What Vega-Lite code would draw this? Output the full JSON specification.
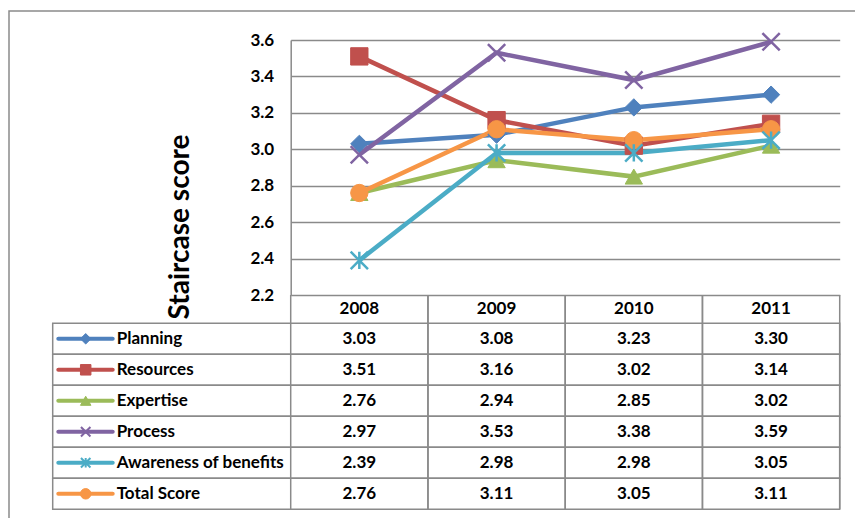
{
  "$schema": "https://vega.github.io/schema/vega-lite/v6.json",
  "width": 549,
  "height": 469,
  "autosize": {"type": "none"},
  "padding": {"left": 290.7, "top": 40, "right": 15.3, "bottom": 9},
  "background": "white",
  "config": {"view": {"stroke": null}, "font": "Lato"},
  "datasets": {
    "scores": [
      {"series": "Planning", "year": "2008", "value": 3.03},
      {"series": "Planning", "year": "2009", "value": 3.08},
      {"series": "Planning", "year": "2010", "value": 3.23},
      {"series": "Planning", "year": "2011", "value": 3.30},
      {"series": "Resources", "year": "2008", "value": 3.51},
      {"series": "Resources", "year": "2009", "value": 3.16},
      {"series": "Resources", "year": "2010", "value": 3.02},
      {"series": "Resources", "year": "2011", "value": 3.14},
      {"series": "Expertise", "year": "2008", "value": 2.76},
      {"series": "Expertise", "year": "2009", "value": 2.94},
      {"series": "Expertise", "year": "2010", "value": 2.85},
      {"series": "Expertise", "year": "2011", "value": 3.02},
      {"series": "Process", "year": "2008", "value": 2.97},
      {"series": "Process", "year": "2009", "value": 3.53},
      {"series": "Process", "year": "2010", "value": 3.38},
      {"series": "Process", "year": "2011", "value": 3.59},
      {"series": "Awareness of benefits", "year": "2008", "value": 2.39},
      {"series": "Awareness of benefits", "year": "2009", "value": 2.98},
      {"series": "Awareness of benefits", "year": "2010", "value": 2.98},
      {"series": "Awareness of benefits", "year": "2011", "value": 3.05},
      {"series": "Total Score", "year": "2008", "value": 2.76},
      {"series": "Total Score", "year": "2009", "value": 3.11},
      {"series": "Total Score", "year": "2010", "value": 3.05},
      {"series": "Total Score", "year": "2011", "value": 3.11}
    ],
    "years": [{"year": "2008"}, {"year": "2009"}, {"year": "2010"}, {"year": "2011"}],
    "series": [
      {"series": "Planning"}, {"series": "Resources"}, {"series": "Expertise"},
      {"series": "Process"}, {"series": "Awareness of benefits"}, {"series": "Total Score"}
    ]
  },
  "layer": [
    {
      "data": {"name": "scores"},
      "mark": {"type": "line", "strokeWidth": 4.5},
      "encoding": {
        "x": {"field": "year", "type": "ordinal", "axis": null, "scale": {"type": "band", "paddingInner": 0, "paddingOuter": 0}},
        "y": {
          "field": "value", "type": "quantitative",
          "scale": {"domain": [2.2, 3.6], "range": [255, 0], "nice": false, "zero": false},
          "axis": {
            "values": [2.2, 2.4, 2.6, 2.8, 3.0, 3.2, 3.4, 3.6],
            "format": ".1f",
            "grid": true, "gridColor": "#8a8a8a", "gridWidth": 1.5,
            "domain": true, "domainColor": "#8a8a8a", "domainWidth": 1.5,
            "ticks": false, "tickSize": 0, "labelPadding": 17,
            "labelFont": "Lato", "labelFontWeight": "bold", "labelFontSize": 17, "labelColor": "#000000",
            "title": "Staircase score",
            "titleFont": "Lato", "titleFontWeight": "bold", "titleFontSize": 28, "titleColor": "#000000",
            "titleAngle": 270, "titleX": -102.7, "titleY": 186.5,
            "titleAlign": "center", "titleBaseline": "alphabetic"
          }
        },
        "color": {
          "field": "series", "type": "nominal", "legend": null,
          "scale": {
            "domain": ["Planning", "Resources", "Expertise", "Process", "Awareness of benefits", "Total Score"],
            "range": ["#4F81BD", "#C0504D", "#9BBB59", "#8064A2", "#4BACC6", "#F79646"]
          }
        }
      }
    },
    {
      "data": {"values": [{}]},
      "mark": {"type": "rect", "filled": false, "stroke": "#8a8a8a", "strokeWidth": 1.5},
      "encoding": {
        "x": {"value": -281.7}, "x2": {"value": 700},
        "y": {"value": -29}, "y2": {"value": 700}
      }
    },
    {
      "data": {"name": "years"},
      "mark": {"type": "rule", "stroke": "#8a8a8a", "strokeWidth": 1.5},
      "encoding": {
        "x": {"field": "year", "type": "ordinal", "bandPosition": 0, "axis": null},
        "y": {"datum": 2.2, "type": "quantitative", "axis": null, "scale": {"domain": [2.2, 3.6], "range": [255, 0], "nice": false, "zero": false}},
        "y2": {"value": "height"}
      }
    },
    {
      "data": {"name": "years"},
      "mark": {"type": "rule", "stroke": "#8a8a8a", "strokeWidth": 1.5},
      "encoding": {
        "x": {"field": "year", "type": "ordinal", "bandPosition": 1, "axis": null},
        "y": {"datum": 2.2, "type": "quantitative", "axis": null, "scale": {"domain": [2.2, 3.6], "range": [255, 0], "nice": false, "zero": false}},
        "y2": {"value": "height"}
      }
    },
    {
      "data": {"name": "scores"},
      "transform": [{"filter": {"field": "series", "oneOf": ["Planning", "Resources", "Expertise", "Total Score"]}}],
      "mark": {"type": "point", "filled": true, "size": 300, "strokeWidth": 1, "opacity": 1},
      "encoding": {
        "x": {"field": "year", "type": "ordinal", "axis": null},
        "y": {"field": "value", "type": "quantitative", "axis": null, "scale": {"domain": [2.2, 3.6], "range": [255, 0], "nice": false, "zero": false}},
        "fill": {"field": "series", "type": "nominal", "legend": null,
          "scale": {"domain": ["Planning", "Resources", "Expertise", "Process", "Awareness of benefits", "Total Score"],
            "range": ["#4F81BD", "#C0504D", "#9BBB59", "#8064A2", "#4BACC6", "#F79646"]}},
        "stroke": {"field": "series", "type": "nominal", "legend": null,
          "scale": {"domain": ["Planning", "Resources", "Expertise", "Process", "Awareness of benefits", "Total Score"],
            "range": ["#4F81BD", "#C0504D", "#9BBB59", "#8064A2", "#4BACC6", "#F79646"]}},
        "shape": {"field": "series", "type": "nominal", "legend": null,
          "scale": {"domain": ["Planning", "Resources", "Expertise", "Process", "Awareness of benefits", "Total Score"],
            "range": ["diamond", "square", "triangle-up", "M-1,-1L1,1M-1,1L1,-1", "M-1,-1L1,1M-1,1L1,-1M0,-1L0,1", "circle"]}}
      }
    },
    {
      "data": {"name": "scores"},
      "transform": [{"filter": {"field": "series", "oneOf": ["Process", "Awareness of benefits"]}}],
      "mark": {"type": "point", "filled": false, "size": 300, "strokeWidth": 2.5, "opacity": 1},
      "encoding": {
        "x": {"field": "year", "type": "ordinal", "axis": null},
        "y": {"field": "value", "type": "quantitative", "axis": null, "scale": {"domain": [2.2, 3.6], "range": [255, 0], "nice": false, "zero": false}},
        "stroke": {"field": "series", "type": "nominal", "legend": null},
        "shape": {"field": "series", "type": "nominal", "legend": null}
      }
    },
    {
      "data": {"name": "years"},
      "mark": {"type": "text", "font": "Lato", "fontWeight": "bold", "fontSize": 17, "color": "#000000", "baseline": "middle", "dy": 14.2},
      "encoding": {
        "x": {"field": "year", "type": "ordinal", "axis": null},
        "y": {"datum": 2.2, "type": "quantitative", "axis": null, "scale": {"domain": [2.2, 3.6], "range": [255, 0], "nice": false, "zero": false}},
        "text": {"field": "year"}
      }
    },
    {
      "data": {"name": "series"},
      "mark": {"type": "rect", "filled": false, "stroke": "#8a8a8a", "strokeWidth": 1.5},
      "encoding": {
        "x": {"value": -238}, "x2": {"value": "width"},
        "y": {
          "field": "series", "type": "nominal", "axis": null,
          "scale": {"type": "band", "domain": ["Planning", "Resources", "Expertise", "Process", "Awareness of benefits", "Total Score"], "range": [283.3, 469.3], "paddingInner": 0, "paddingOuter": 0}
        }
      }
    },
    {
      "data": {"name": "scores"},
      "mark": {"type": "text", "font": "Lato", "fontWeight": "bold", "fontSize": 17, "color": "#000000", "baseline": "middle"},
      "encoding": {
        "x": {"field": "year", "type": "ordinal", "axis": null},
        "y": {"field": "series", "type": "nominal", "axis": null,
          "scale": {"type": "band", "domain": ["Planning", "Resources", "Expertise", "Process", "Awareness of benefits", "Total Score"], "range": [283.3, 469.3], "paddingInner": 0, "paddingOuter": 0}},
        "text": {"field": "value", "type": "quantitative", "format": ".2f"}
      }
    },
    {
      "data": {"name": "series"},
      "mark": {"type": "rule", "strokeWidth": 4, "strokeCap": "round"},
      "encoding": {
        "x": {"value": -232.4}, "x2": {"value": -178},
        "y": {"field": "series", "type": "nominal", "axis": null,
          "scale": {"type": "band", "domain": ["Planning", "Resources", "Expertise", "Process", "Awareness of benefits", "Total Score"], "range": [283.3, 469.3], "paddingInner": 0, "paddingOuter": 0}},
        "color": {"field": "series", "type": "nominal", "legend": null}
      }
    },
    {
      "data": {"name": "series"},
      "transform": [{"filter": {"field": "series", "oneOf": ["Planning", "Resources", "Expertise", "Total Score"]}}],
      "mark": {"type": "point", "filled": true, "size": 110, "strokeWidth": 1, "opacity": 1},
      "encoding": {
        "x": {"value": -205},
        "y": {"field": "series", "type": "nominal", "axis": null,
          "scale": {"type": "band", "domain": ["Planning", "Resources", "Expertise", "Process", "Awareness of benefits", "Total Score"], "range": [283.3, 469.3], "paddingInner": 0, "paddingOuter": 0}},
        "fill": {"field": "series", "type": "nominal", "legend": null},
        "stroke": {"field": "series", "type": "nominal", "legend": null},
        "shape": {"field": "series", "type": "nominal", "legend": null}
      }
    },
    {
      "data": {"name": "series"},
      "transform": [{"filter": {"field": "series", "oneOf": ["Process", "Awareness of benefits"]}}],
      "mark": {"type": "point", "filled": false, "size": 90, "strokeWidth": 2, "opacity": 1},
      "encoding": {
        "x": {"value": -205},
        "y": {"field": "series", "type": "nominal", "axis": null,
          "scale": {"type": "band", "domain": ["Planning", "Resources", "Expertise", "Process", "Awareness of benefits", "Total Score"], "range": [283.3, 469.3], "paddingInner": 0, "paddingOuter": 0}},
        "stroke": {"field": "series", "type": "nominal", "legend": null},
        "shape": {"field": "series", "type": "nominal", "legend": null}
      }
    },
    {
      "data": {"name": "series"},
      "mark": {"type": "text", "font": "Lato", "fontWeight": "bold", "fontSize": 17, "color": "#000000", "baseline": "middle", "align": "left"},
      "encoding": {
        "x": {"value": -174},
        "y": {"field": "series", "type": "nominal", "axis": null,
          "scale": {"type": "band", "domain": ["Planning", "Resources", "Expertise", "Process", "Awareness of benefits", "Total Score"], "range": [283.3, 469.3], "paddingInner": 0, "paddingOuter": 0}},
        "text": {"field": "series"}
      }
    }
  ],
  "resolve": {"scale": {"y": "independent"}}
}
